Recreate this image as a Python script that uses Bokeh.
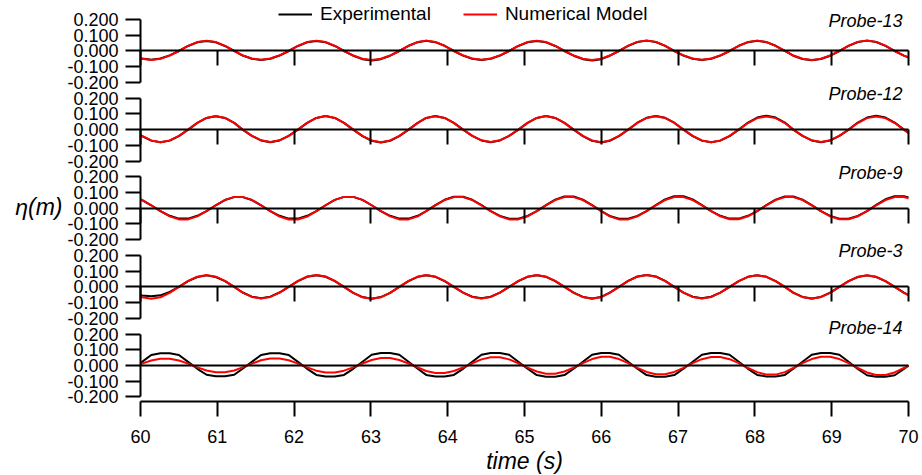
from bokeh.plotting import figure
from bokeh.models import (Range1d, LinearAxis, FixedTicker, NumeralTickFormatter,
                          Label, Legend, LegendItem)
from bokeh.embed import file_html
from bokeh.resources import INLINE

# ---------------- data ----------------
TIME = [60.00, 60.02, 60.14, 60.26, 60.38, 60.50, 60.62, 60.74, 60.86, 60.98,
        61.10, 61.22, 61.33, 61.45, 61.57, 61.69, 61.81, 61.93, 62.05, 62.17,
        62.29, 62.41, 62.53, 62.65, 62.77, 62.89, 63.01, 63.13, 63.25, 63.37,
        63.49, 63.61, 63.72, 63.84, 63.96, 64.08, 64.20, 64.32, 64.44, 64.56,
        64.68, 64.80, 64.92, 65.04, 65.16, 65.28, 65.40, 65.52, 65.64, 65.76,
        65.88, 66.00, 66.11, 66.23, 66.35, 66.47, 66.59, 66.71, 66.83, 66.95,
        67.07, 67.19, 67.31, 67.43, 67.55, 67.67, 67.79, 67.91, 68.03, 68.15,
        68.27, 68.39, 68.50, 68.62, 68.74, 68.86, 68.98, 69.10, 69.22, 69.34,
        69.46, 69.58, 69.70, 69.82, 69.94, 70.00]

PROBES = ["Probe-13", "Probe-12", "Probe-9", "Probe-3", "Probe-14"]
SERIES_NAMES = ["Experimental", "Numerical Model"]

EXP_13 = [-0.046, -0.048, -0.056, -0.048, -0.028, 0.0,
          0.032, 0.055, 0.064, 0.055, 0.032, 0.0,
          -0.029, -0.049, -0.057, -0.049, -0.029, 0.0,
          0.032, 0.055, 0.063, 0.055, 0.032, 0.0,
          -0.030, -0.052, -0.060, -0.052, -0.030, 0.0,
          0.033, 0.056, 0.065, 0.056, 0.033, 0.0,
          -0.029, -0.050, -0.058, -0.050, -0.029, 0.0,
          0.032, 0.055, 0.064, 0.055, 0.032, 0.0,
          -0.030, -0.052, -0.060, -0.052, -0.030, 0.0,
          0.033, 0.057, 0.066, 0.057, 0.033, 0.0,
          -0.029, -0.050, -0.058, -0.050, -0.029, 0.0,
          0.033, 0.056, 0.065, 0.056, 0.033, 0.0,
          -0.030, -0.051, -0.059, -0.051, -0.030, 0.0,
          0.033, 0.057, 0.066, 0.057, 0.033, 0.0,
          -0.029, -0.041]
NUM_13 = [-0.047, -0.050, -0.058, -0.050, -0.029, 0.0,
          0.033, 0.057, 0.066, 0.057, 0.033, 0.0,
          -0.028, -0.048, -0.056, -0.048, -0.028, 0.0,
          0.033, 0.057, 0.066, 0.057, 0.033, 0.0,
          -0.029, -0.049, -0.057, -0.049, -0.029, 0.0,
          0.033, 0.057, 0.066, 0.057, 0.033, 0.0,
          -0.028, -0.048, -0.056, -0.048, -0.028, 0.0,
          0.033, 0.057, 0.066, 0.057, 0.033, 0.0,
          -0.029, -0.049, -0.057, -0.049, -0.029, 0.0,
          0.034, 0.058, 0.067, 0.058, 0.034, 0.0,
          -0.028, -0.048, -0.056, -0.048, -0.028, 0.0,
          0.033, 0.057, 0.066, 0.057, 0.033, 0.0,
          -0.029, -0.049, -0.057, -0.049, -0.029, 0.0,
          0.034, 0.058, 0.067, 0.058, 0.034, 0.0,
          -0.029, -0.041]

EXP_12 = [-0.034, -0.041, -0.070, -0.081, -0.070, -0.041,
          0.0, 0.043, 0.074, 0.085, 0.074, 0.043,
          0.0, -0.040, -0.069, -0.080, -0.069, -0.040,
          0.0, 0.043, 0.074, 0.086, 0.074, 0.043,
          0.0, -0.041, -0.071, -0.082, -0.071, -0.041,
          0.0, 0.043, 0.074, 0.086, 0.074, 0.043,
          0.0, -0.040, -0.069, -0.080, -0.069, -0.040,
          0.0, 0.043, 0.074, 0.086, 0.074, 0.043,
          0.0, -0.041, -0.071, -0.082, -0.071, -0.041,
          0.0, 0.044, 0.075, 0.087, 0.075, 0.044,
          0.0, -0.041, -0.070, -0.081, -0.070, -0.041,
          0.0, 0.045, 0.077, 0.089, 0.077, 0.045,
          0.0, -0.040, -0.069, -0.080, -0.069, -0.040,
          0.0, 0.045, 0.077, 0.089, 0.077, 0.045,
          0.0, -0.021]
NUM_12 = [-0.034, -0.040, -0.069, -0.080, -0.069, -0.040,
          0.0, 0.043, 0.074, 0.086, 0.074, 0.043,
          0.0, -0.040, -0.068, -0.079, -0.068, -0.040,
          0.0, 0.043, 0.074, 0.086, 0.074, 0.043,
          0.0, -0.040, -0.069, -0.080, -0.069, -0.040,
          0.0, 0.043, 0.074, 0.085, 0.074, 0.043,
          0.0, -0.040, -0.068, -0.079, -0.068, -0.040,
          0.0, 0.043, 0.074, 0.086, 0.074, 0.043,
          0.0, -0.040, -0.069, -0.080, -0.069, -0.040,
          0.0, 0.043, 0.074, 0.085, 0.074, 0.043,
          0.0, -0.040, -0.069, -0.080, -0.069, -0.040,
          0.0, 0.042, 0.073, 0.084, 0.073, 0.042,
          0.0, -0.040, -0.068, -0.079, -0.068, -0.040,
          0.0, 0.042, 0.073, 0.084, 0.073, 0.042,
          0.0, -0.021]

EXP_9 = [0.056, 0.052, 0.019,
         -0.018, -0.048, -0.066, -0.066, -0.048, -0.018,
         0.019, 0.052, 0.071, 0.071, 0.052, 0.019,
         -0.018, -0.048, -0.066, -0.066, -0.048, -0.018,
         0.019, 0.053, 0.072, 0.072, 0.053, 0.019,
         -0.018, -0.048, -0.066, -0.066, -0.048, -0.018,
         0.020, 0.054, 0.073, 0.073, 0.054, 0.020,
         -0.018, -0.049, -0.067, -0.067, -0.049, -0.018,
         0.020, 0.055, 0.075, 0.075, 0.055, 0.020,
         -0.018, -0.049, -0.067, -0.067, -0.049, -0.018,
         0.020, 0.056, 0.076, 0.076, 0.056, 0.020,
         -0.018, -0.048, -0.066, -0.066, -0.048, -0.018,
         0.020, 0.055, 0.075, 0.075, 0.055, 0.020,
         -0.018, -0.049, -0.067, -0.067, -0.049, -0.018,
         0.021, 0.057, 0.077, 0.077, 0.069]
NUM_9 = [0.057, 0.053, 0.019,
         -0.019, -0.052, -0.071, -0.071, -0.052, -0.019,
         0.019, 0.053, 0.072, 0.072, 0.053, 0.019,
         -0.019, -0.053, -0.072, -0.072, -0.053, -0.019,
         0.019, 0.053, 0.072, 0.072, 0.053, 0.019,
         -0.019, -0.052, -0.071, -0.071, -0.052, -0.019,
         0.019, 0.052, 0.071, 0.071, 0.052, 0.019,
         -0.019, -0.052, -0.071, -0.071, -0.052, -0.019,
         0.019, 0.052, 0.071, 0.071, 0.052, 0.019,
         -0.019, -0.052, -0.071, -0.071, -0.052, -0.019,
         0.019, 0.052, 0.071, 0.071, 0.052, 0.019,
         -0.019, -0.051, -0.070, -0.070, -0.051, -0.019,
         0.019, 0.052, 0.071, 0.071, 0.052, 0.019,
         -0.019, -0.051, -0.070, -0.070, -0.051, -0.019,
         0.019, 0.052, 0.071, 0.071, 0.063]

EXP_3 = [-0.052, -0.055, -0.060, -0.054, -0.032, 0.0,
         0.037, 0.063, 0.073, 0.063, 0.037, 0.0,
         -0.036, -0.062, -0.072, -0.062, -0.036, 0.0,
         0.037, 0.064, 0.074, 0.064, 0.037, 0.0,
         -0.038, -0.065, -0.075, -0.065, -0.038, 0.0,
         0.037, 0.064, 0.074, 0.064, 0.037, 0.0,
         -0.037, -0.063, -0.073, -0.063, -0.037, 0.0,
         0.037, 0.064, 0.074, 0.064, 0.037, 0.0,
         -0.037, -0.064, -0.074, -0.064, -0.037, 0.0,
         0.038, 0.066, 0.076, 0.066, 0.038, 0.0,
         -0.037, -0.063, -0.073, -0.063, -0.037, 0.0,
         0.037, 0.064, 0.074, 0.064, 0.037, 0.0,
         -0.037, -0.064, -0.074, -0.064, -0.037, 0.0,
         0.037, 0.063, 0.073, 0.063, 0.037, 0.0,
         -0.037, -0.052]
NUM_3 = [-0.062, -0.066, -0.076, -0.066, -0.038, 0.0,
         0.038, 0.065, 0.075, 0.065, 0.038, 0.0,
         -0.037, -0.064, -0.074, -0.064, -0.037, 0.0,
         0.038, 0.066, 0.076, 0.066, 0.038, 0.0,
         -0.038, -0.066, -0.076, -0.066, -0.038, 0.0,
         0.038, 0.065, 0.075, 0.065, 0.038, 0.0,
         -0.037, -0.064, -0.074, -0.064, -0.037, 0.0,
         0.038, 0.065, 0.075, 0.065, 0.038, 0.0,
         -0.038, -0.065, -0.075, -0.065, -0.038, 0.0,
         0.038, 0.065, 0.075, 0.065, 0.038, 0.0,
         -0.037, -0.064, -0.074, -0.064, -0.037, 0.0,
         0.037, 0.064, 0.074, 0.064, 0.037, 0.0,
         -0.038, -0.065, -0.075, -0.065, -0.038, 0.0,
         0.037, 0.064, 0.074, 0.064, 0.037, 0.0,
         -0.038, -0.053]

EXP_14 = [0.004,
          0.023, 0.067, 0.078, 0.078, 0.067, 0.023,
          -0.021, -0.059, -0.069, -0.069, -0.059, -0.021,
          0.023, 0.067, 0.078, 0.078, 0.067, 0.023,
          -0.021, -0.060, -0.070, -0.070, -0.060, -0.021,
          0.024, 0.068, 0.079, 0.079, 0.068, 0.024,
          -0.021, -0.060, -0.070, -0.070, -0.060, -0.021,
          0.024, 0.068, 0.079, 0.079, 0.068, 0.024,
          -0.021, -0.061, -0.071, -0.071, -0.061, -0.021,
          0.024, 0.068, 0.079, 0.079, 0.068, 0.024,
          -0.021, -0.061, -0.071, -0.071, -0.061, -0.021,
          0.024, 0.068, 0.079, 0.079, 0.068, 0.024,
          -0.021, -0.060, -0.070, -0.070, -0.060, -0.021,
          0.024, 0.068, 0.079, 0.079, 0.068, 0.024,
          -0.022, -0.062, -0.072, -0.072, -0.062, -0.022,
          0.000]
NUM_14 = [0.003,
          0.012, 0.032, 0.043, 0.043, 0.032, 0.012,
          -0.012, -0.032, -0.043, -0.043, -0.032, -0.012,
          0.012, 0.033, 0.044, 0.044, 0.033, 0.012,
          -0.012, -0.033, -0.044, -0.044, -0.033, -0.012,
          0.013, 0.035, 0.048, 0.048, 0.035, 0.013,
          -0.013, -0.035, -0.048, -0.048, -0.035, -0.013,
          0.014, 0.039, 0.053, 0.053, 0.039, 0.014,
          -0.014, -0.038, -0.052, -0.052, -0.038, -0.014,
          0.015, 0.041, 0.056, 0.056, 0.041, 0.015,
          -0.015, -0.041, -0.056, -0.056, -0.041, -0.015,
          0.015, 0.040, 0.054, 0.054, 0.040, 0.015,
          -0.016, -0.042, -0.058, -0.058, -0.042, -0.016,
          0.015, 0.041, 0.056, 0.056, 0.041, 0.015,
          -0.016, -0.044, -0.060, -0.060, -0.044, -0.016,
          -0.004]

EXPERIMENTAL = [EXP_13, EXP_12, EXP_9, EXP_3, EXP_14]
NUMERICAL = [NUM_13, NUM_12, NUM_9, NUM_3, NUM_14]

X_TICKS = [60, 61, 62, 63, 64, 65, 66, 67, 68, 69, 70]
Y_TICKS = [-0.2, -0.1, 0.0, 0.1, 0.2]
X_LABEL = "time (s)"
Y_LABEL = "\u03b7(m)"

# ---------------- layout / style ----------------
FONT = "Liberation Sans"
W, H = 922, 475
X0, X1 = 60, 70
PX_PER_S = 76.8
LEFT_PX, RIGHT_PX = 140, 14          # room for the y axes / right margin
PX_PER_UNIT = 157.25                 # vertical pixels per metre of elevation
GAP = 0.5                            # vertical distance between panel zero lines
Y_TOP = 0.3211                       # stacked coordinate at the top edge
Y_BOTTOM = Y_TOP - H / PX_PER_UNIT   # stacked coordinate at the bottom edge
AXIS_Y = Y_TOP - 401 / PX_PER_UNIT   # where the time axis sits
LABEL_DY = [-1, 4, 4, 4, 6]

p = figure(width=W, height=H, output_backend="svg", toolbar_location=None,
           x_range=Range1d(X0 - LEFT_PX / PX_PER_S, X1 + RIGHT_PX / PX_PER_S),
           y_range=Range1d(Y_BOTTOM, Y_TOP),
           x_axis_location=None, y_axis_location=None,
           min_border_left=0, min_border_right=0,
           min_border_top=0, min_border_bottom=0)
p.grid.visible = False
p.outline_line_color = None
p.background_fill_color = "white"
p.border_fill_color = "white"

bx = LinearAxis(fixed_location=AXIS_Y, ticker=FixedTicker(ticks=X_TICKS),
                bounds=(X0, X1))
bx.axis_line_width = 2
bx.axis_line_color = "black"
bx.major_tick_line_width = 2
bx.major_tick_line_color = "black"
bx.major_tick_out = 15
bx.major_tick_in = 0
bx.minor_tick_line_color = None
bx.major_label_text_font = FONT
bx.major_label_text_font_size = "18px"
bx.major_label_text_color = "black"
bx.major_label_standoff = 13
p.add_layout(bx, "below")

p.add_layout(Label(x=(X0 + X1) / 2, y=AXIS_Y, y_offset=-59, text=X_LABEL,
                   text_align="center", text_baseline="middle",
                   text_font=FONT, text_font_style="italic",
                   text_font_size="23px", text_color="black"))

p.extra_y_ranges = {f"panel{i}": Range1d(Y_BOTTOM + GAP * i, Y_TOP + GAP * i)
                    for i in range(len(PROBES))}

legend_items = []
for i, probe in enumerate(PROBES):
    name = f"panel{i}"
    r_exp = p.line(TIME, EXPERIMENTAL[i], y_range_name=name,
                   line_color="black", line_width=2)
    r_num = p.line(TIME, NUMERICAL[i], y_range_name=name,
                   line_color="#ff0000", line_width=2)
    if i == 0:
        legend_items = [LegendItem(label=SERIES_NAMES[0], renderers=[r_exp]),
                        LegendItem(label=SERIES_NAMES[1], renderers=[r_num])]

    # zero line of the panel (with downward ticks on the upper panels)
    xa = LinearAxis(fixed_location=-GAP * i, ticker=FixedTicker(ticks=X_TICKS),
                    bounds=(X0, X1))
    xa.axis_line_color = "black"
    xa.axis_line_width = 2
    xa.major_tick_line_width = 2
    xa.major_tick_line_color = "black" if i < len(PROBES) - 1 else None
    xa.major_tick_out = 15
    xa.major_tick_in = 0
    xa.minor_tick_line_color = None
    xa.major_label_text_color = None
    p.add_layout(xa, "below")

    ya = LinearAxis(y_range_name=name, fixed_location=X0, bounds=(-0.2, 0.2),
                    ticker=FixedTicker(ticks=Y_TICKS),
                    formatter=NumeralTickFormatter(format="0.000"))
    ya.axis_line_width = 2
    ya.axis_line_color = "black"
    ya.major_tick_line_width = 2
    ya.major_tick_line_color = "black"
    ya.major_tick_out = 15
    ya.major_tick_in = 0
    ya.minor_tick_line_color = None
    ya.major_label_text_font = FONT
    ya.major_label_text_font_size = "18px"
    ya.major_label_text_color = "black"
    ya.major_label_standoff = 7
    p.add_layout(ya, "left")

    p.add_layout(Label(x=X1, y=0.2, y_range_name=name, x_offset=-6,
                       y_offset=LABEL_DY[i],
                       text=probe, text_align="right", text_baseline="middle",
                       text_font=FONT, text_font_style="italic",
                       text_font_size="18px", text_color="black"))

p.add_layout(Label(x=X0, y=0, y_range_name="panel2", x_offset=-78, y_offset=1,
                   text=Y_LABEL, text_align="right", text_baseline="middle",
                   text_font=FONT, text_font_style="italic",
                   text_font_size="23px", text_color="black"))

legend = Legend(items=legend_items, orientation="horizontal", location=(278, 450),
                label_text_font=FONT, label_text_font_size="19px",
                label_text_color="black", glyph_width=34, glyph_height=20,
                label_standoff=8, spacing=32, padding=0, margin=0,
                border_line_color=None, background_fill_alpha=0)
p.add_layout(legend)

open("out.html", "w").write(file_html(p, INLINE))
